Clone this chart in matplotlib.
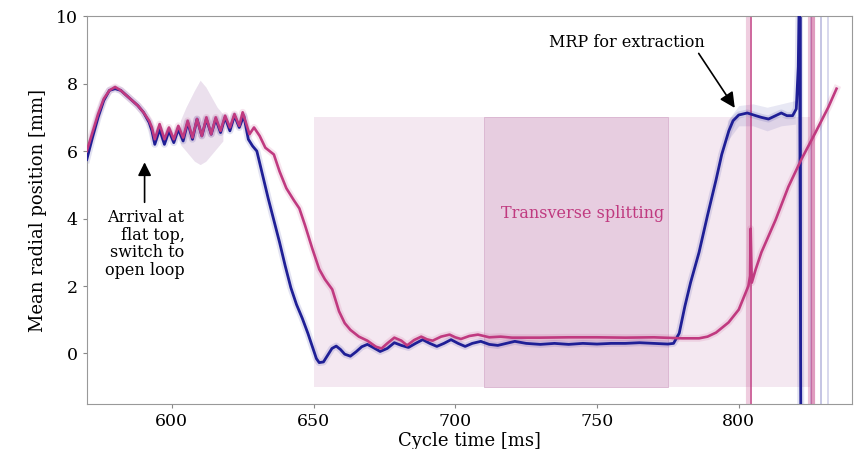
import matplotlib
matplotlib.use("Agg")
import matplotlib.pyplot as plt
from matplotlib.patches import Rectangle

plt.rcParams['font.family'] = ['DejaVu Serif']

BLUE = '#1f1f96'
MAGENTA = '#c03a80'

# mean traces (cycle time in ms, position in mm)
blue_x = [570, 572, 574, 576, 578, 580, 582, 584, 586, 588, 590, 592, 593,
          594.0, 595.7, 597.4, 599.0, 600.7, 602.3, 604.0, 605.6, 607.3, 608.9,
          610.6, 612.2, 613.9, 615.5, 617.2, 618.8, 620.5, 622.1, 623.8, 625.4,
          627.0, 628.5, 630, 632, 634, 636, 638, 640, 642, 644, 646, 648, 650,
          651, 652, 653.5, 655, 656.5, 658, 659.5, 661, 663, 665, 667, 669, 671,
          673.5, 676, 678.5, 681, 683.5, 686, 688.5, 691, 693.5, 696, 698.5, 701,
          703.5, 706, 709, 712, 715, 718, 721, 725, 730, 735, 740, 745, 750, 755,
          760, 765, 770, 775, 777, 779, 781, 783, 786, 789, 792, 794, 796.5, 798,
          800, 803, 806, 808, 810.5, 813, 815, 817, 819, 820.3, 821.0, 821.4, 821.9]
blue_y = [5.75, 6.4, 7.0, 7.5, 7.8, 7.85, 7.8, 7.65, 7.5, 7.35, 7.15, 6.85, 6.6,
          6.2, 6.65, 6.2, 6.6, 6.25, 6.65, 6.3, 6.85, 6.35, 6.95,
          6.45, 6.95, 6.5, 6.95, 6.55, 7.0, 6.6, 7.05, 6.7, 7.05,
          6.35, 6.15, 6.0, 5.3, 4.6, 3.95, 3.3, 2.6, 1.95, 1.45, 1.05, 0.6, 0.1,
          -0.15, -0.27, -0.25, -0.05, 0.15, 0.22, 0.12, -0.02, -0.08, 0.05, 0.2, 0.27, 0.18,
          0.06, 0.15, 0.32, 0.24, 0.18, 0.3, 0.41, 0.3, 0.21, 0.3, 0.41, 0.3,
          0.21, 0.3, 0.36, 0.27, 0.24, 0.3, 0.36, 0.3, 0.27, 0.3, 0.27, 0.3, 0.28, 0.3,
          0.3, 0.32, 0.3, 0.28, 0.3, 0.6, 1.4, 2.1, 3.0, 4.1, 5.15, 5.9, 6.6, 6.9,
          7.07, 7.13, 7.05, 7.0, 6.95, 7.05, 7.13, 7.05, 7.05, 7.25, 8.5, 11.0, -2.0]

magenta_x = [570, 572, 574, 576, 578, 580, 582, 584, 586, 588, 590, 592, 593,
             594.0, 595.7, 597.4, 599.0, 600.7, 602.3, 604.0, 605.6, 607.3, 608.9,
             610.6, 612.2, 613.9, 615.5, 617.2, 618.8, 620.5, 622.1, 623.8, 625.0,
             627.4, 629, 631, 633, 636, 638, 640.4, 643, 645, 647, 649.6, 652, 654,
             656.6, 659, 661, 663, 666, 669, 672, 674, 676, 678.5, 681, 683, 685.5,
             688, 690, 692, 695, 698, 700, 702, 705, 708, 712, 716, 720, 730, 740,
             750, 760, 770, 780, 786, 789, 792, 796.4, 800, 803.4, 804.0, 804.2,
             804.6, 806, 808, 813, 817.5, 822, 827, 831.6, 834.5]
magenta_y = [6.0, 6.55, 7.1, 7.55, 7.8, 7.9, 7.8, 7.65, 7.5, 7.35, 7.15, 6.9, 6.7,
             6.35, 6.8, 6.35, 6.7, 6.35, 6.75, 6.4, 6.9, 6.4, 6.95,
             6.45, 7.0, 6.5, 7.0, 6.6, 7.05, 6.7, 7.1, 6.75, 7.15,
             6.5, 6.7, 6.45, 6.1, 5.9, 5.4, 4.9, 4.55, 4.3, 3.8, 3.1, 2.5, 2.2,
             1.9, 1.25, 0.9, 0.7, 0.5, 0.38, 0.2, 0.15, 0.3, 0.47, 0.38, 0.24, 0.4,
             0.5, 0.42, 0.38, 0.5, 0.56, 0.48, 0.43, 0.52, 0.56, 0.48, 0.5, 0.47, 0.47, 0.48,
             0.48, 0.47, 0.48, 0.45, 0.45, 0.5, 0.62, 0.92, 1.3, 2.0, 2.3, 3.7,
             2.1, 2.5, 3.0, 3.96, 4.94, 5.74, 6.54, 7.3, 7.85]

# shot-to-shot spread around the flat-top oscillation and the extraction plateau
spread_x = [603, 605, 608, 610, 612, 614, 616, 618]
spread_lo = [6.2, 6.0, 5.7, 5.6, 5.7, 5.9, 6.1, 6.3]
spread_hi = [6.9, 7.3, 7.8, 8.1, 7.9, 7.6, 7.3, 7.1]
plateau_x = [796, 800, 805, 810, 815, 820]
plateau_lo = [6.3, 6.75, 6.75, 6.6, 6.75, 6.8]
plateau_hi = [6.9, 7.35, 7.4, 7.3, 7.4, 7.5]

# single shots that blow up at the end of the window
blue_glitch_x = [822.0, 825.5, 829.0, 831.6]
blue_glitch_alpha = [0.9, 0.25, 0.3, 0.2]
magenta_glitch_x = [803.2, 804.2, 825.0, 826.3]
magenta_glitch_alpha = [0.25, 0.9, 0.3, 0.5]

# splitting windows
window_full = (650, 825)
window_core = (710, 775)
window_y = (-1.0, 7.0)

fig = plt.figure(figsize=(8.59, 4.49), dpi=100)
ax = fig.add_axes([0.101, 0.1, 0.891, 0.864])

ax.add_patch(Rectangle((window_full[0], window_y[0]), window_full[1] - window_full[0],
                       window_y[1] - window_y[0], facecolor='#f4e8f1',
                       edgecolor='none', zorder=0))
ax.add_patch(Rectangle((window_core[0], window_y[0]), window_core[1] - window_core[0],
                       window_y[1] - window_y[0], facecolor='#e7cde0',
                       edgecolor='#d9b3cf', linewidth=0.6, zorder=0))

ax.fill_between(spread_x, spread_lo, spread_hi, color=BLUE, alpha=0.07, lw=0, zorder=1)
ax.fill_between(spread_x, spread_lo, spread_hi, color=MAGENTA, alpha=0.08, lw=0, zorder=1)
ax.fill_between(plateau_x, plateau_lo, plateau_hi, color=BLUE, alpha=0.1, lw=0, zorder=1)

for gx, ga in zip(blue_glitch_x, blue_glitch_alpha):
    ax.axvline(gx, color=BLUE, alpha=ga, lw=1.2, zorder=1)
for gx, ga in zip(magenta_glitch_x, magenta_glitch_alpha):
    ax.axvline(gx, color=MAGENTA, alpha=ga, lw=1.2 if ga > 0.5 else 3, zorder=1)

# wide pale line underneath gives the blurred look of the overlaid shots
ax.plot(blue_x, blue_y, color=BLUE, lw=5, alpha=0.13, zorder=2)
ax.plot(magenta_x, magenta_y, color=MAGENTA, lw=5, alpha=0.13, zorder=2)
ax.plot(blue_x, blue_y, color=BLUE, lw=2, zorder=3)
ax.plot(magenta_x, magenta_y, color=MAGENTA, lw=1.9, zorder=4)

ax.text(745, 4.15, 'Transverse splitting', color=MAGENTA, fontsize=11.5,
        ha='center', va='center')
ax.annotate('', xy=(590.4, 5.75), xytext=(590.4, 4.4),
            arrowprops=dict(arrowstyle='-|>,head_width=0.4,head_length=0.8',
                            color='black', lw=1.2))
ax.text(604.5, 4.28, 'Arrival at\nflat top,\nswitch to\nopen loop', ha='right',
        va='top', fontsize=11.5, linespacing=1.05)
ax.annotate('MRP for extraction', xy=(798.6, 7.28), xytext=(760.5, 9.23),
            ha='center', va='center', fontsize=11.5,
            arrowprops=dict(arrowstyle='-|>,head_width=0.4,head_length=0.8',
                            color='black', lw=1.2, shrinkA=0, shrinkB=0,
                            relpos=(0.95, 0.0)))

ax.set_xlim(570, 840)
ax.set_ylim(-1.5, 10)
ax.set_xticks([600, 650, 700, 750, 800])
ax.set_yticks([0, 2, 4, 6, 8, 10])
ax.set_xlabel('Cycle time [ms]', fontsize=13, labelpad=1)
ax.set_ylabel('Mean radial position [mm]', fontsize=13, labelpad=6)
ax.tick_params(labelsize=12.5, length=3, color='#888888')
for s in ax.spines.values():
    s.set_color('#999999')

fig.savefig('out.png', dpi=100)
